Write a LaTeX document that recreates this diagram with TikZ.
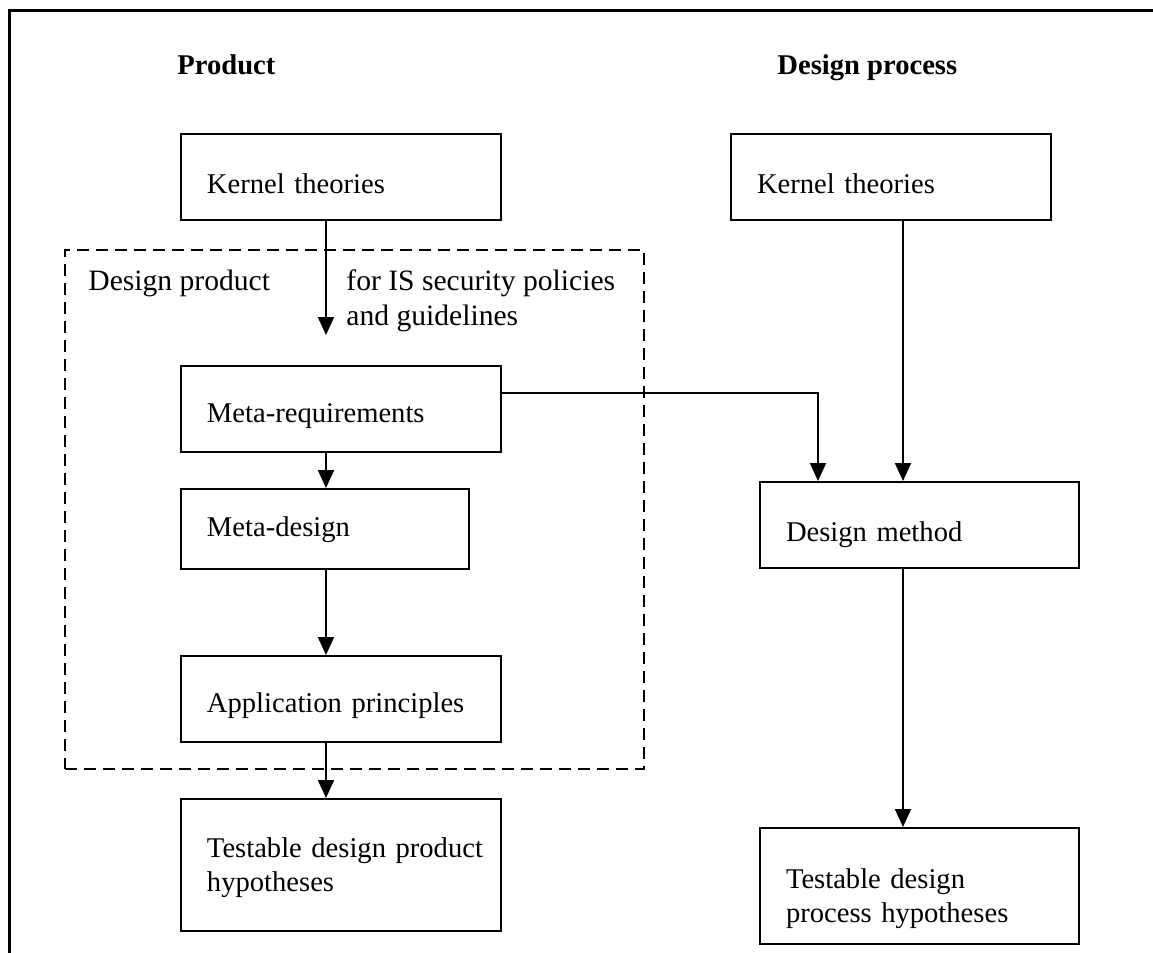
\documentclass[tikz,border=0pt]{standalone}
\usepackage{fontspec}
\setmainfont{Liberation Serif}
\usepackage{tikz}
\usetikzlibrary{arrows.meta,positioning}

\begin{document}
\begin{tikzpicture}[
    x=0.5pt, y=-0.5pt,
    font=\fontsize{14.3}{17}\selectfont,
    box/.style={rectangle, draw, line width=1pt, anchor=north west, align=left, inner xsep=0pt, inner ysep=0pt, text width=160pt, minimum height=43pt, execute at begin node={\leftskip=13pt\relax\rule{0pt}{#1}}},
    box/.default=16.5pt,
    area/.style={rectangle, draw, dashed, dash pattern=on 6pt off 3.5pt, line width=1pt, anchor=north west, minimum width=289.5pt, minimum height=259.5pt},
    head/.style={anchor=base west, inner sep=0pt, font=\fontsize{14.3}{17}\selectfont\bfseries},
    lbl/.style={anchor=base west, inner sep=0pt, align=left, font=\fontsize{14.8}{17.5}\selectfont},
    link/.style={-{Triangle[width=8pt,length=9pt]}, line width=1pt}
]
    \useasboundingbox (0,0) rectangle (1153,953);
    \draw[line width=1.5pt] (9,953) -- (9,10) -- (1153,10);

    % headings
    \node[head] (prodHead) at (177,75) {Product};
    \node[head] (procHead) at (777,75) {Design process};

    % product side
    \node[area] (prodArea) at (64,249) {};
    \node[lbl] (areaName) at (88,290) {Design product};
    \node[lbl] (areaScope) at (346,325) {for IS security policies\\and guidelines};

    \node[box] (kernelP) at (180,133) {Kernel theories};
    \node[box] (metaReq) at (180,365) {Meta-requirements};
    \node[box=11pt, text width=144pt, minimum height=40pt] (metaDes) at (180,488) {Meta-design};
    \node[box] (appPr) at (180,655) {Application principles};
    \node[box=12.8pt, minimum height=66pt] (testP) at (180,798) {Testable design product\\hypotheses};

    % process side
    \node[box] (kernelD) at (730,133) {Kernel theories};
    \node[box=19.8pt, text width=159.5pt] (method) at (759,481) {Design method};
    \node[box=22.8pt, text width=159.5pt, minimum height=58pt] (testD) at (759,827) {Testable design\\process hypotheses};

    \coordinate (into) at (326,335);
    \coordinate (down) at (903,0);
    \coordinate (bend) at (818,393);

    \draw[link] (kernelP.south -| into) -- (into);
    \draw[link] (metaReq.south -| into) -- (metaDes.north -| into);
    \draw[link] (metaDes.south -| into) -- (appPr.north -| into);
    \draw[link] (appPr.south -| into) -- (testP.north -| into);

    \draw[link] (kernelD.south -| down) -- (method.north -| down);
    \draw[link] (method.south -| down) -- (testD.north -| down);
    \draw[link] (metaReq.east |- bend) -- (bend) -- (method.north -| bend);
\end{tikzpicture}
\end{document}
